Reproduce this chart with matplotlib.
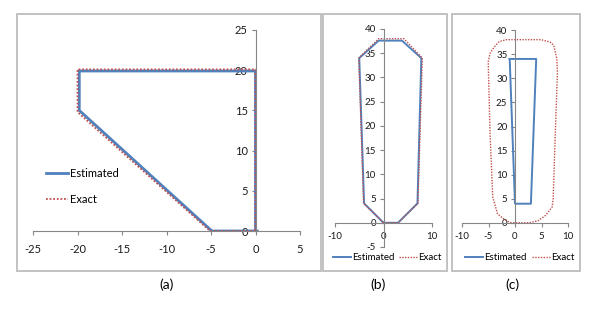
import matplotlib.pyplot as plt
from matplotlib.patches import Rectangle

plt.rcParams['font.family'] = ['Lato', 'DejaVu Sans']
plt.rcParams['axes.unicode_minus'] = False

# Data
# (a)
est_a_x = [0.2, -4.9, -19.8, -19.8, 0.0, 0.0]
est_a_y = [0.0, 0.0, 15.0, 19.9, 19.9, 0.0]
exa_a_x = [0.0, -5.1, -20.0, -20.0, 0.0, 0.0]
exa_a_y = [0.0, 0.0, 14.8, 20.1, 20.1, 0.0]

# (b)
est_b_x = [0, 3, 7, 7.8, 3.8, -1, -5, -4, 0]
est_b_y = [0, 0, 4, 34, 37.6, 37.6, 34, 4, 0]
exa_b_x = [0, 3, 7.1, 8, 4.2, -1, -5.1, -4.1, 0]
exa_b_y = [0, 0, 4, 34, 38, 38, 34, 4, 0]

# (c)
est_c_x = [-1, 4, 3, 0, -1]
est_c_y = [34, 34, 4, 4, 34]
exa_c_x = [-0.9, 2.8, 4.4, 5.8, 7.0, 7.2, 7.6, 8.0, 7.9, 7.3, 6.6, 4.9,
           -1.6, -3.0, -3.9, -4.7, -5.05, -5.0, -4.7, -4.2, -3.3, -2.2, -0.9]
exa_c_y = [0.05, 0.05, 0.5, 1.6, 3.3, 5.0, 18.5, 31.0, 34.0, 36.9, 37.5, 38.0,
           38.0, 37.6, 36.5, 35.2, 33.4, 31.0, 18.5, 5.4, 1.9, 0.9, 0.05]

BLUE = '#4F81BD'
RED = '#C0504D'
AXC = '#868686'
W, H = 599, 314

fig = plt.figure(figsize=(W / 100, H / 100), dpi=100)


def px_axes(x0, x1, y_top, y_bot):
    return fig.add_axes([x0 / W, 1 - y_bot / H, (x1 - x0) / W, (y_bot - y_top) / H])


def style(ax, size, xpad):
    for s in ['top', 'right']:
        ax.spines[s].set_visible(False)
    for s in ['left', 'bottom']:
        ax.spines[s].set_position(('data', 0))
        ax.spines[s].set_color(AXC)
        ax.spines[s].set_linewidth(0.8)
    ax.patch.set_alpha(0)
    ax.tick_params(axis='both', direction='out', length=3, width=0.8, color=AXC,
                   labelsize=size, labelcolor='#1a1a1a')
    ax.tick_params(axis='y', pad=2.5)
    ax.tick_params(axis='x', pad=xpad)


# Panel frames
for x0, x1 in [(17, 321), (323, 447), (452, 580)]:
    fig.add_artist(Rectangle((x0 / W, 1 - 271 / H), (x1 - x0) / W, (271 - 14) / H,
                             transform=fig.transFigure, fill=False,
                             edgecolor='#bdbdbd', linewidth=1.3))

# (a)
ax = px_axes(33, 300, 30, 231)
ax.plot(est_a_x, est_a_y, color=BLUE, lw=2.0, label='Estimated', solid_joinstyle='miter')
ax.plot(exa_a_x, exa_a_y, color=RED, lw=1.3, ls=(0, (1, 1)), label='Exact')
ax.set_xlim(-25, 5)
ax.set_ylim(0, 25)
ax.set_xticks(range(-25, 6, 5))
ax.set_yticks(range(0, 26, 5))
style(ax, 8, 6.5)
ax.legend(loc='center left', bbox_to_anchor=(46 / W, 1 - 186.5 / H),
          bbox_transform=fig.transFigure, frameon=False, fontsize=8,
          handlelength=2.0, handletextpad=0.2, labelspacing=1.4,
          borderpad=0, borderaxespad=0)

# (b)
ax = px_axes(335, 432, 29, 247)
ax.plot(est_b_x, est_b_y, color=BLUE, lw=1.4, label='Estimated')
ax.plot(exa_b_x, exa_b_y, color=RED, lw=1.0, ls=(0, (1, 1)), label='Exact')
ax.set_xlim(-10, 10)
ax.set_ylim(-5, 40)
ax.set_xticks([-10, 0, 10])
ax.set_yticks(range(-5, 41, 5))
style(ax, 7, 3.5)
ax.legend(loc='center left', bbox_to_anchor=(333 / W, 1 - 258 / H),
          bbox_transform=fig.transFigure, frameon=False, fontsize=7, ncol=2,
          handlelength=1.9, handletextpad=0.1, columnspacing=0.4,
          borderpad=0, borderaxespad=0)

# (c)
ax = px_axes(462, 568, 30, 223)
ax.plot(est_c_x, est_c_y, color=BLUE, lw=1.4, label='Estimated')
ax.plot(exa_c_x, exa_c_y, color=RED, lw=1.0, ls=(0, (1, 1)), label='Exact')
ax.set_xlim(-10, 10)
ax.set_ylim(0, 40)
ax.set_xticks(range(-10, 11, 5))
ax.set_yticks(range(0, 41, 5))
style(ax, 7, 3.5)
ax.legend(loc='center left', bbox_to_anchor=(465 / W, 1 - 258 / H),
          bbox_transform=fig.transFigure, frameon=False, fontsize=7, ncol=2,
          handlelength=1.9, handletextpad=0.1, columnspacing=0.5,
          borderpad=0, borderaxespad=0)

# Panel labels
for lab, x in [('(a)', 167), ('(b)', 378), ('(c)', 512)]:
    fig.text(x / W, 1 - 285 / H, lab, ha='center', va='center', fontsize=10)

fig.savefig('out.png', dpi=100)
